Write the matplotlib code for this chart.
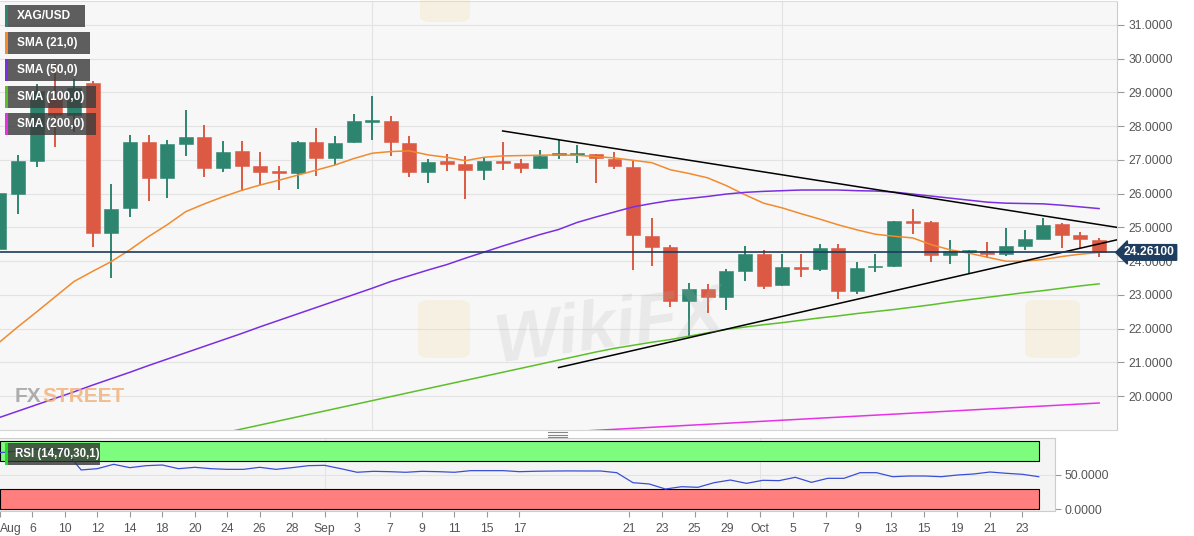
import matplotlib
matplotlib.use("Agg")
import matplotlib.pyplot as plt
from matplotlib.lines import Line2D
from matplotlib.patches import Rectangle, FancyBboxPatch
import numpy as np

plt.rcParams['font.family'] = ['Liberation Sans', 'DejaVu Sans']

W, H = 1194, 536
nan = np.nan

# ---------------- data ----------------
opens = [24.35, 26.00, 26.98, 28.85, 28.34, 29.28, 24.85, 25.59, 27.52, 26.48,
         27.48, 27.68, 26.76, 27.26, 26.81, 26.66, 26.61, 27.53, 27.06, 27.52,
         28.12, 28.14, 27.50, 26.64, 26.97, 26.88, 26.71, 26.98, 26.91, 26.76,
         27.15, 27.16, 27.18, 27.04, 26.79, 24.76, 24.41, 22.83, 23.18, 22.94,
         23.70, 24.22, 23.29, 23.83, 23.78, 24.38, 23.11, 23.82, 23.87, 25.16,
         25.15, 24.19, 24.28, 24.31, 24.21, 24.46, 24.67, 25.10, 24.77, 24.64]
highs = [26.15, 27.15, 29.25, 29.88, 29.40, 29.35, 26.30, 27.75, 27.75, 27.60,
         28.49, 28.03, 27.55, 27.55, 27.25, 26.83, 27.55, 27.94, 27.72, 28.37,
         28.90, 28.31, 27.72, 27.03, 27.18, 27.12, 27.10, 27.52, 27.03, 27.30,
         27.60, 27.45, 27.19, 27.23, 27.00, 25.28, 24.49, 23.36, 23.34, 23.77,
         24.44, 24.34, 24.20, 24.22, 24.52, 24.52, 23.99, 24.22, 25.20, 25.56,
         25.19, 24.64, 24.34, 24.56, 24.98, 24.93, 25.28, 25.12, 24.88, 24.69]
lows = [24.20, 25.40, 26.80, 27.39, 27.83, 24.43, 23.49, 25.32, 25.77, 25.88,
        27.13, 26.51, 26.63, 26.07, 26.27, 26.10, 26.14, 26.53, 26.86, 27.50,
        27.58, 27.12, 26.51, 26.33, 26.66, 25.85, 26.41, 26.71, 26.61, 26.73,
        27.03, 26.91, 26.31, 26.73, 23.75, 23.85, 22.65, 21.72, 22.47, 22.57,
        23.40, 23.18, 23.26, 23.52, 23.70, 22.89, 23.03, 23.67, 23.83, 24.80,
        23.98, 23.92, 23.64, 24.09, 24.16, 24.34, 24.66, 24.39, 24.39, 24.14]
closes = [26.03, 26.98, 29.05, 28.34, 29.14, 24.85, 25.56, 27.52, 26.48, 27.47,
          27.68, 26.76, 27.25, 26.81, 26.65, 26.60, 27.53, 27.06, 27.50, 28.14,
          28.16, 27.52, 26.64, 26.94, 26.87, 26.69, 26.98, 26.91, 26.76, 27.12,
          27.18, 27.18, 27.06, 26.81, 24.77, 24.43, 22.83, 23.18, 22.94, 23.70,
          24.22, 23.28, 23.83, 23.77, 24.38, 23.11, 23.81, 23.87, 25.18, 25.13,
          24.19, 24.31, 24.32, 24.21, 24.44, 24.66, 25.08, 24.79, 24.66, 24.26]

sma21 = [21.60, 22.06, 22.50, 22.95, 23.40, 23.70, 23.99, 24.34, 24.73, 25.08,
         25.47, 25.70, 25.91, 26.10, 26.26, 26.40, 26.55, 26.70, 26.85, 27.04,
         27.20, 27.25, 27.27, 27.15, 27.08, 26.98, 27.08, 27.12, 27.13, 27.14,
         27.15, 27.14, 27.10, 27.06, 26.99, 26.92, 26.71, 26.60, 26.47, 26.24,
         25.97, 25.72, 25.58, 25.41, 25.25, 25.08, 24.93, 24.80, 24.74, 24.69,
         24.49, 24.34, 24.24, 24.12, 24.00, 24.00, 24.05, 24.14, 24.21, 24.26]
sma50 = [19.37, 19.56, 19.75, 19.94, 20.13, 20.33, 20.52, 20.71, 20.91, 21.10,
         21.29, 21.48, 21.67, 21.86, 22.06, 22.25, 22.44, 22.63, 22.82, 23.01,
         23.20, 23.40, 23.57, 23.74, 23.90, 24.09, 24.27, 24.45, 24.62, 24.79,
         24.94, 25.15, 25.31, 25.46, 25.61, 25.71, 25.80, 25.86, 25.92, 25.99,
         26.04, 26.07, 26.09, 26.11, 26.11, 26.11, 26.09, 26.08, 26.05, 25.99,
         25.93, 25.87, 25.81, 25.75, 25.72, 25.71, 25.70, 25.66, 25.61, 25.56]
sma100 = [nan] * 12 + [
    18.91, 19.03, 19.15, 19.27, 19.39, 19.51, 19.63, 19.75, 19.87, 19.99,
    20.11, 20.23, 20.35, 20.47, 20.59, 20.71, 20.83, 20.95, 21.07, 21.19,
    21.31, 21.42, 21.51, 21.60, 21.68, 21.78, 21.88, 21.98, 22.05, 22.12,
    22.18, 22.25, 22.32, 22.38, 22.45, 22.51, 22.57, 22.64, 22.71, 22.79,
    22.86, 22.93, 23.00, 23.07, 23.13, 23.20, 23.27, 23.33]
sma200 = [nan] * 30 + [
    18.93, 18.96, 18.99, 19.02, 19.05, 19.08, 19.11, 19.14, 19.17, 19.20,
    19.23, 19.26, 19.29, 19.32, 19.35, 19.38, 19.41, 19.44, 19.47, 19.50,
    19.53, 19.56, 19.59, 19.62, 19.65, 19.68, 19.71, 19.74, 19.77, 19.80]

last_price = 24.261
price_ticks = [20, 21, 22, 23, 24, 25, 26, 27, 28, 29, 30, 31]
upper_line_x, upper_line_y = [27, 60], [27.86, 25.00]
lower_line_x, lower_line_y = [30, 60], [20.85, 24.64]
month_start_idx = [20, 42]

rsi = [82.8, 85.0, 88.0, 88.0, 86.0, 57.4, 59.3, 65.7, 60.8, 63.7,
       64.7, 59.3, 61.3, 59.3, 58.3, 58.3, 61.3, 58.3, 60.8, 63.7,
       64.2, 59.3, 54.0, 55.4, 54.9, 54.0, 55.4, 54.9, 54.0, 56.4,
       56.4, 56.4, 54.9, 55.5, 55.8, 56.0, 55.9, 55.9, 53.4, 38.7,
       36.8, 29.4, 32.8, 31.9, 38.7, 42.6, 37.7, 42.2, 41.7, 46.6,
       39.2, 45.1, 45.1, 53.4, 53.4, 47.5, 48.5, 48.5, 47.5, 50.0,
       51.5, 54.4, 52.5, 51.0, 47.5]
rsi_overbought, rsi_oversold = 70, 30
rsi_ticks = [0, 50]
date_labels = ['Aug', '6', '10', '12', '14', '18', '20', '24', '26', '28', 'Sep',
               '3', '7', '9', '11', '15', '17', '21', '23', '25', '29', 'Oct',
               '5', '7', '9', '13', '15', '19', '21', '23']
date_label_slots = [0, 2, 4, 6, 8, 10, 12, 14, 16, 18, 20, 22, 24, 26, 28, 30, 32,
                    38.75, 40.8, 42.8, 44.8, 46.83, 48.86, 50.89, 52.87, 54.9,
                    56.93, 58.97, 61.0, 62.97]
rsi_month_slots = [20, 46.83]

legend_labels = ['XAG/USD', 'SMA (21,0)', 'SMA (50,0)', 'SMA (100,0)', 'SMA (200,0)']

# ---------------- style ----------------
UP, DOWN = '#2d8570', '#dc5a43'
C21, C50, C100, C200 = '#f28a2e', '#7a2ee0', '#5cbf2a', '#e632e6'
legend_colors = ['#2d8570', C21, C50, C100, C200]
GRID = '#e3e3e3'
TXT = '#555555'


def fx(px):
    return px / W


def fy(py):
    return 1 - py / H


fig = plt.figure(figsize=(W / 100, H / 100), dpi=100)
fig.patch.set_facecolor('white')

# ---------------- main price panel ----------------
ax = fig.add_axes([0, fy(430), fx(1117), fy(1) - fy(430)])
ax.set_facecolor('#f7f7f7')
ax.set_axisbelow(True)
ax.grid(axis='y', color=GRID, lw=0.8)
for m in month_start_idx:
    ax.axvline(m, color=GRID, lw=0.8, zorder=0)

x = np.arange(len(closes))
o = np.array(opens); c = np.array(closes)
cols = [UP if cc >= oo else DOWN for oo, cc in zip(o, c)]
ax.vlines(x, lows, highs, colors=cols, lw=1.4, zorder=3)
ax.bar(x, np.maximum(np.abs(c - o), 0.05), bottom=np.minimum(o, c), width=0.75,
       color=cols, edgecolor=cols, lw=0.4, zorder=4)

ax.plot(x, sma21, color=C21, lw=1.1, zorder=5)
ax.plot(x, sma50, color=C50, lw=1.1, zorder=5)
ax.plot(x, sma100, color=C100, lw=1.1, zorder=5)
ax.plot(x, sma200, color=C200, lw=1.1, zorder=5)
ax.plot(upper_line_x, upper_line_y, color='black', lw=1.1, zorder=6)
ax.plot(lower_line_x, lower_line_y, color='black', lw=1.1, zorder=6)
ax.axhline(last_price, color='#1d3b5a', lw=1.2, zorder=6)

ax.set_xlim(0.032, 59.96)
ax.set_ylim(19.0, 31.71)
ax.yaxis.tick_right()
ax.set_yticks(price_ticks)
ax.set_yticklabels([f'{v:.4f}' for v in price_ticks])
ax.tick_params(axis='y', length=5, color='#999999', labelcolor=TXT, labelsize=8.7, pad=3)
ax.tick_params(axis='x', bottom=False, labelbottom=False)
ax.spines['left'].set_visible(False)
ax.spines['top'].set_color('#dcdce8')
ax.spines['right'].set_color('#cccccc')
ax.spines['bottom'].set_color('#d5d5d5')

# last price tag on the axis
ax.annotate(f'{last_price:.5f}', xy=(1.0, last_price),
            xycoords=('axes fraction', 'data'), xytext=(7, 0),
            textcoords='offset pixels', ha='left', va='center', color='white',
            fontsize=8.7, fontweight='bold', annotation_clip=False, zorder=10,
            bbox=dict(boxstyle='larrow,pad=0.15', fc='#1f3d5e', ec='#1f3d5e'))

# watermarks / logos
fig.text(fx(15), fy(397), 'FX', color='#a0a0a0', fontsize=15, fontweight='bold',
         va='center', ha='left', alpha=0.85)
fig.text(fx(42), fy(397), 'STREET', color='#f3b27a', fontsize=15, fontweight='bold',
         va='center', ha='left', alpha=0.85)
for (lx, ly, lw_, lh_) in [(418, 300, 52, 58), (1025, 300, 55, 58), (420, -12, 50, 34)]:
    fig.patches.append(FancyBboxPatch((fx(lx), fy(ly + lh_)), fx(lw_), lh_ / H,
                                      boxstyle='round,pad=0,rounding_size=0.01',
                                      transform=fig.transFigure, fc='#f5d48a',
                                      ec='none', alpha=0.18, zorder=1))
fig.text(fx(610), fy(328), 'WikiFX', color='#b0b0b0', fontsize=50, fontweight='bold',
         style='italic', ha='center', va='center', alpha=0.2, rotation=8)

# legend boxes
box_w = [80, 85, 85, 91, 91]
for i, (lab, col) in enumerate(zip(legend_labels, legend_colors)):
    top = 5 + 27 * i
    fig.patches.append(Rectangle((fx(5), fy(top + 22)), fx(box_w[i]), 22 / H,
                                 transform=fig.transFigure, fc='#3c3c3c', ec='none',
                                 alpha=0.82, zorder=20))
    fig.patches.append(Rectangle((fx(5), fy(top + 22)), fx(3), 22 / H,
                                 transform=fig.transFigure, fc=col, ec='none', zorder=21))
    fig.text(fx(17), fy(top + 11), lab, color='white', fontsize=8.6, fontweight='bold',
             ha='left', va='center', zorder=22)

# ---------------- RSI panel ----------------
ax2 = fig.add_axes([0, fy(510.5), fx(1055), fy(438) - fy(510.5)])
ax2.set_facecolor('#f4f4f4')
rx = np.arange(len(rsi))
ax2.axhline(50, color=GRID, lw=0.8, zorder=0)
for m in rsi_month_slots:
    ax2.axvline(m, color=GRID, lw=0.8, zorder=0)
ax2.add_patch(Rectangle((0, rsi_overbought), len(rsi) - 1, 100 - rsi_overbought,
                        fc='#7dfc7d', ec='black', lw=0.8, zorder=1))
ax2.add_patch(Rectangle((0, 0), len(rsi) - 1, rsi_oversold,
                        fc='#ff7f7f', ec='black', lw=0.8, zorder=1))
ax2.plot(rx, rsi, color='#3a4fd6', lw=0.9, zorder=3)
ax2.set_xlim(0, 1055 / 16.23)
ax2.set_ylim(-2.2, 104.4)
ax2.yaxis.tick_right()
ax2.set_yticks(rsi_ticks)
ax2.set_yticklabels([f'{v:.4f}' for v in rsi_ticks])
ax2.set_xticks(date_label_slots)
ax2.set_xticklabels(date_labels)
ax2.tick_params(axis='both', length=4, color='#999999', labelcolor=TXT, labelsize=8.7)
ax2.tick_params(axis='x', pad=5)
ax2.tick_params(axis='y', pad=3)
ax2.get_xticklabels()[0].set_horizontalalignment('left')
ax2.spines['left'].set_visible(False)
for s in ['top', 'right', 'bottom']:
    ax2.spines[s].set_color('#cccccc')

fig.patches.append(Rectangle((fx(5), fy(465)), fx(95), 22 / H, transform=fig.transFigure,
                             fc='#333333', ec='none', alpha=0.8, zorder=20))
fig.patches.append(Rectangle((fx(5), fy(465)), fx(3), 22 / H, transform=fig.transFigure,
                             fc='#22dd22', ec='none', zorder=21))
fig.text(fx(15), fy(454), 'RSI (14,70,30,1)', color='white', fontsize=8.3,
         fontweight='bold', ha='left', va='center', zorder=22)

# drag handle between panels
for yy in (432, 434.5, 437):
    fig.add_artist(Line2D([fx(548), fx(567)], [fy(yy), fy(yy)], color='#888888', lw=0.8))

fig.savefig('out.png', dpi=100, facecolor='white')
